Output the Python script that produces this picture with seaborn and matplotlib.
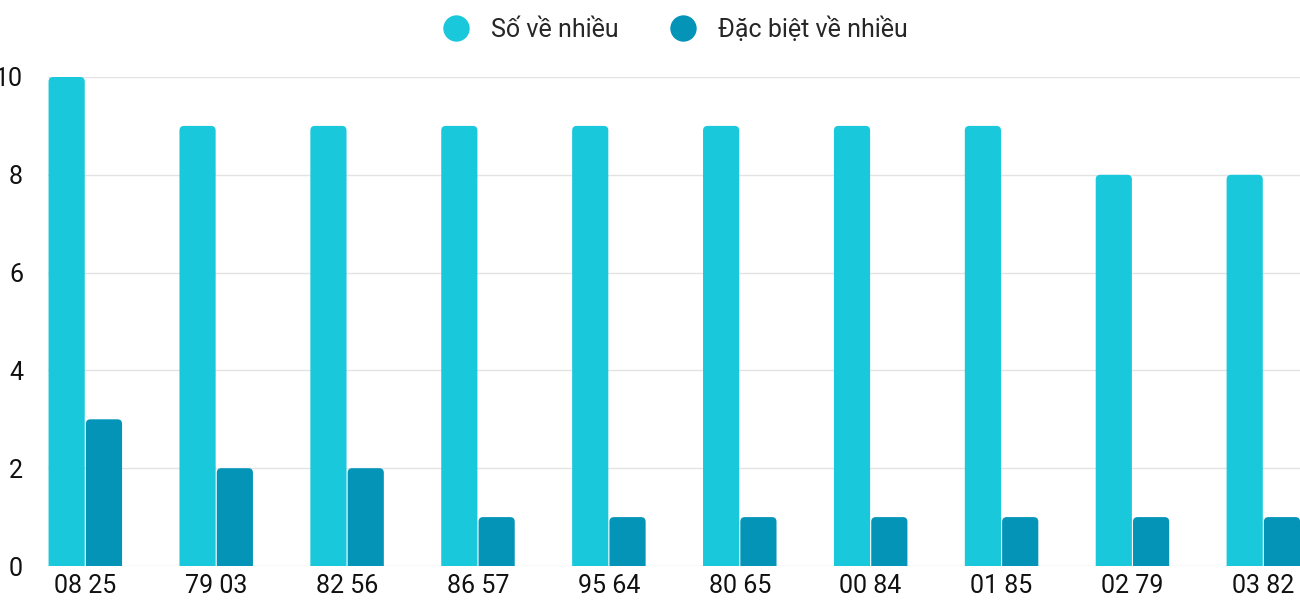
import matplotlib.pyplot as plt
import seaborn as sns
import pandas as pd
from matplotlib.patches import FancyBboxPatch
from matplotlib.lines import Line2D

labels = ["08 25", "79 03", "82 56", "86 57", "95 64", "80 65", "00 84", "01 85", "02 79", "03 82"]
so_ve_nhieu = [10, 9, 9, 9, 9, 9, 9, 9, 8, 8]
dac_biet = [3, 2, 2, 1, 1, 1, 1, 1, 1, 1]
series = ["Số về nhiều", "Đặc biệt về nhiều"]
colors = ["#1ac8db", "#0494b8"]

df = pd.DataFrame({
    "label": labels * 2,
    "value": so_ve_nhieu + dac_biet,
    "series": [series[0]] * len(labels) + [series[1]] * len(labels),
})

sns.set_style("white")
plt.rcParams["font.family"] = ["Roboto", "DejaVu Sans"]

fig = plt.figure(figsize=(13, 6), dpi=100)
ax = fig.add_axes([48 / 1300, 1 - 566 / 600, 1 - 48 / 1300, (566 - 77) / 600])

sns.barplot(data=df, x="label", y="value", hue="series", palette=colors,
            saturation=1, width=0.57, gap=0.03, ax=ax, legend=False)

ax.set_xlim(-0.285, 9.28)
ax.set_ylim(0, 10)
# replace bars with rounded-top versions
aspect = (10 / 489) / (9.565 / 1252)
for p in list(ax.patches):
    x, w, h = p.get_x(), p.get_width(), p.get_height()
    fc = p.get_facecolor()
    p.set_visible(False)
    rp = FancyBboxPatch((x, -0.3), w, h + 0.3,
                        boxstyle="round,pad=0,rounding_size=0.035",
                        mutation_aspect=aspect, facecolor=fc, edgecolor="none", zorder=3)
    ax.add_patch(rp)

ax.set_yticks(range(0, 11, 2))
ax.yaxis.grid(True, color="#e3e3e3", linewidth=1)
ax.set_axisbelow(True)
for s in ax.spines.values():
    s.set_visible(False)
ax.set_xlabel("")
ax.set_ylabel("")
ax.tick_params(axis="both", length=0, labelsize=18, colors="#111111")
ax.tick_params(axis="x", pad=6)
ax.tick_params(axis="y", pad=18)

handles = [Line2D([0], [0], marker="o", color="w", markerfacecolor=c, markersize=20)
           for c in colors]
fig.legend(handles, series, loc="upper center", bbox_to_anchor=(0.515, 1.01), ncol=2,
           frameon=False, fontsize=18, handletextpad=0.4, columnspacing=1.6)

fig.savefig("out.png", dpi=100)
